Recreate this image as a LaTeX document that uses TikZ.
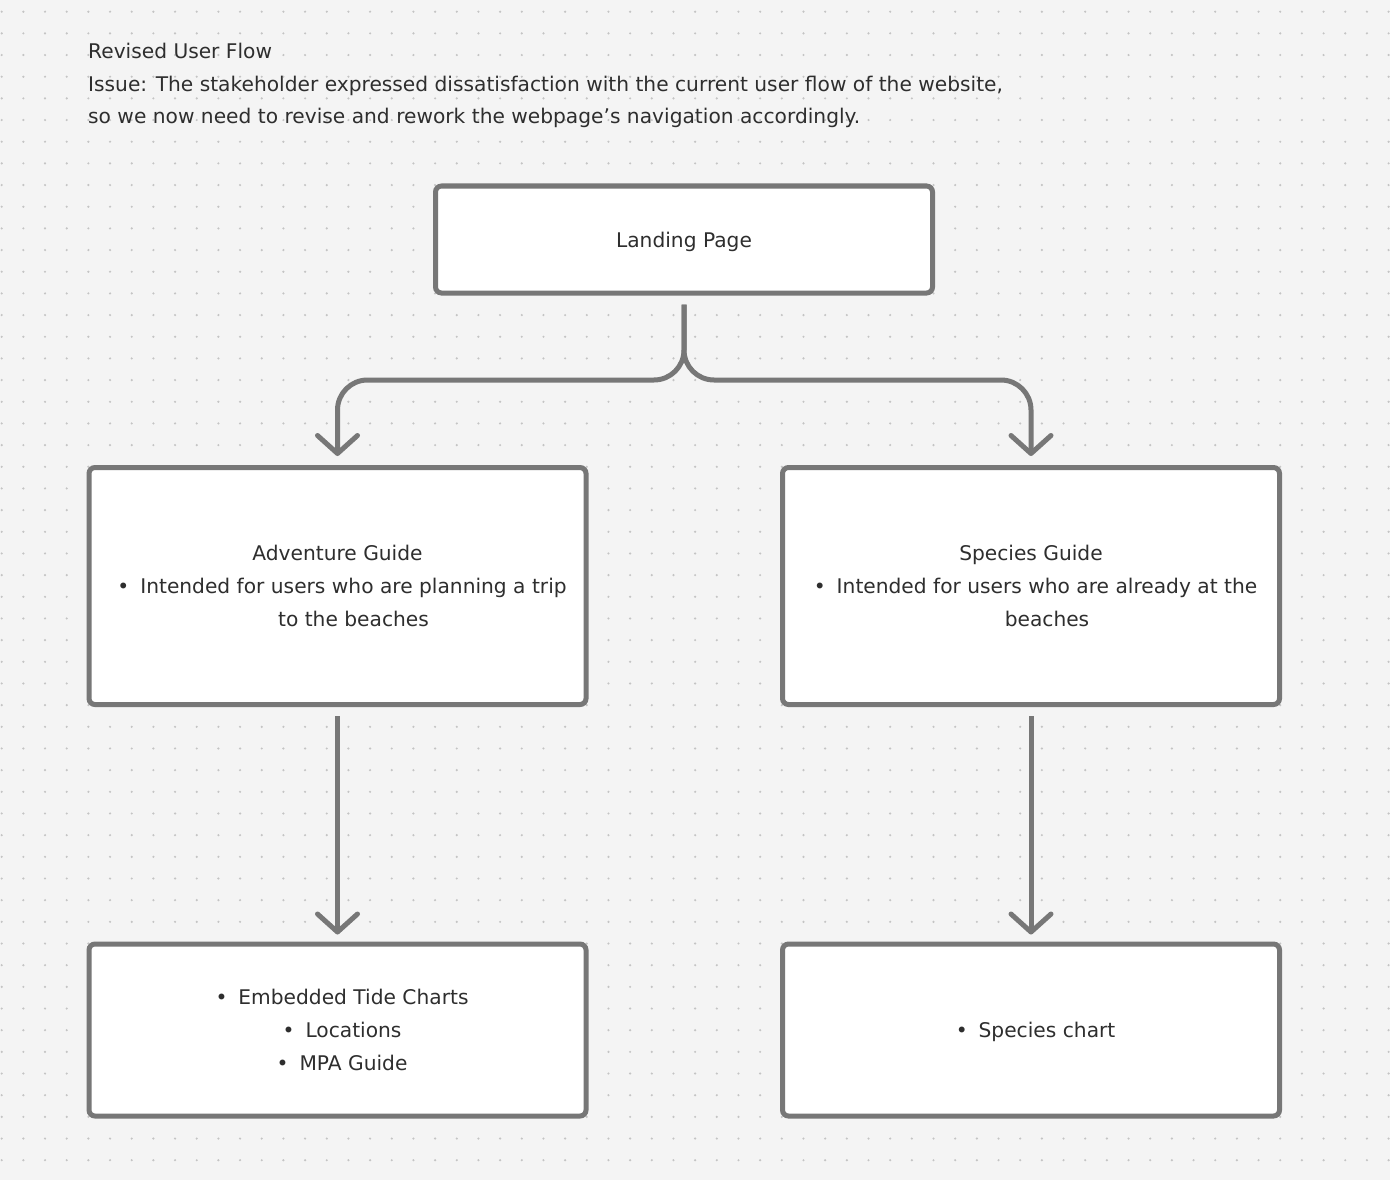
\documentclass[tikz,border=0pt]{standalone}
\usepackage{fontspec}
\setmainfont{DejaVu Sans}
\usetikzlibrary{arrows.meta}
\definecolor{canvas}{HTML}{F4F4F4}
\definecolor{grid dot}{HTML}{C4C4C4}
\definecolor{stroke grey}{HTML}{777777}
\definecolor{ink}{HTML}{2E2E2E}
\newcommand{\bulletline}[1]{\hspace*{32pt}\llap{\textbullet\hspace{11pt}}#1}
\newcommand{\contline}[1]{\hspace*{32pt}#1}

\begin{document}
\begin{tikzpicture}[x=1pt, y=-1pt]
            \tikzstyle{page box} = [draw=stroke grey, line width=5pt, fill=white, rounded corners=6pt, minimum width=497pt, align=center, text=ink, font=\fontsize{20.2}{33}\selectfont]
            \tikzstyle{flow} = [draw=stroke grey, line width=5pt, rounded corners=30pt, -{Straight Barb[length=18pt, width=40pt, round]}]
            \fill[canvas] (0, 0) rectangle (1390, 1180);
            \foreach \i in {0,...,64}
                \foreach \j in {0,...,53}
                    \fill[grid dot] (1.7 + 21.67*\i, 11.7 + 21.67*\j) circle (1.2);
            \node[anchor=north west, inner sep=0pt, align=left, text=ink, font=\fontsize{20.2}{32.5}\selectfont] (header) at (88, 43) {Revised User Flow\\Issue: The stakeholder expressed dissatisfaction with the current user flow of the website,\\so we now need to revise and rework the webpage’s navigation accordingly.};
            \node[page box, minimum height=107pt, text depth=0pt] (landing) at (684, 239.5) {Landing Page};
            \node[page box, minimum height=237pt] (adventure) at (337.5, 586) {Adventure Guide\\\bulletline{Intended for users who are planning a trip}\\\contline{to the beaches}};
            \node[page box, minimum height=237pt] (species) at (1031, 586) {Species Guide\\\bulletline{Intended for users who are already at the}\\\contline{beaches}};
            \node[page box, minimum height=172pt] (tides) at (337.5, 1030) {\bulletline{Embedded Tide Charts}\\\bulletline{Locations}\\\bulletline{MPA Guide}};
            \node[page box, minimum height=172pt, text depth=0pt] (chart) at (1031, 1030) {\bulletline{Species chart}};
            \draw[flow] ([yshift=-9pt]landing.south) -- (landing.south |- 0, 380) -- (adventure.north |- 0, 380) -- ([yshift=9pt]adventure.north);
            \draw[flow] ([yshift=-9pt]landing.south) -- (landing.south |- 0, 380) -- (species.north |- 0, 380) -- ([yshift=9pt]species.north);
            \draw[flow] ([yshift=-9pt]adventure.south) -- ([yshift=7pt]tides.north);
            \draw[flow] ([yshift=-9pt]species.south) -- ([yshift=7pt]chart.north);
        \end{tikzpicture}
\end{document}
